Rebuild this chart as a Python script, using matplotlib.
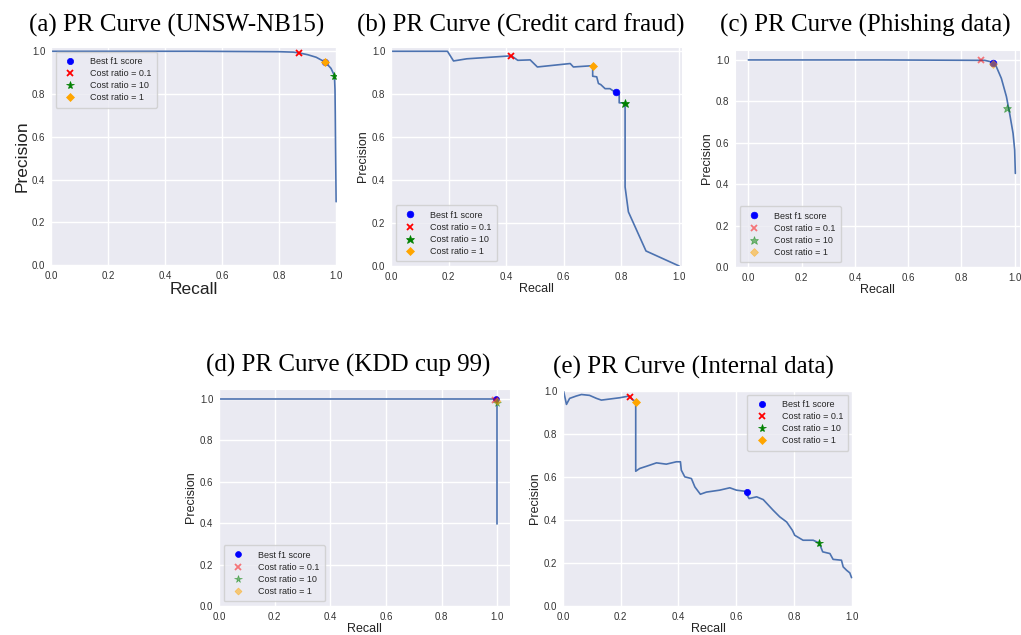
import matplotlib.pyplot as plt
import seaborn as sns

# ---- PR curves (recall, precision) ----
recall_a = [0.0, 0.5, 0.8, 0.85, 0.871, 0.9, 0.93, 0.962, 0.982, 0.994, 0.996, 0.997, 0.998, 0.999, 1.0]
precision_a = [1.0, 1.0, 0.998, 0.996, 0.992, 0.984, 0.972, 0.949, 0.92, 0.886, 0.82, 0.7, 0.55, 0.42, 0.296]

recall_b = [0.0, 0.196, 0.217, 0.263, 0.407, 0.419, 0.44, 0.483, 0.508, 0.622, 0.633, 0.70,
            0.70, 0.714, 0.72, 0.728, 0.743, 0.76, 0.775, 0.781, 0.792, 0.792, 0.8125,
            0.8125, 0.824, 0.885, 1.0]
precision_b = [1.0, 1.0, 0.955, 0.965, 0.978, 0.978, 0.958, 0.96, 0.927, 0.943, 0.927, 0.933,
               0.884, 0.881, 0.85, 0.845, 0.826, 0.826, 0.812, 0.812, 0.80, 0.76, 0.76,
               0.368, 0.252, 0.07, 0.0]

recall_c = [0.0, 0.5, 0.8875, 0.905, 0.919, 0.931, 0.95, 0.969, 0.981, 0.994, 1.0, 1.0025]
precision_c = [1.0, 1.0, 0.998, 0.993, 0.987, 0.968, 0.911, 0.823, 0.742, 0.645, 0.565, 0.452]

recall_d = [0.0, 0.998, 0.998]
precision_d = [1.0, 1.0, 0.395]

recall_e = [0.002, 0.012, 0.023, 0.046, 0.064, 0.092, 0.116, 0.133, 0.162, 0.197, 0.229, 0.243,
            0.252, 0.252, 0.266, 0.289, 0.324, 0.358, 0.393, 0.407, 0.41, 0.422, 0.445, 0.457,
            0.476, 0.497, 0.543, 0.578, 0.601, 0.63, 0.645, 0.671, 0.694, 0.728, 0.751, 0.775,
            0.795, 0.803, 0.832, 0.867, 0.888, 0.9, 0.925, 0.936, 0.965, 0.971, 0.983, 0.994, 1.0]
precision_e = [1.0, 0.938, 0.966, 0.977, 0.984, 0.98, 0.966, 0.958, 0.963, 0.969, 0.977, 0.958,
               0.953, 0.627, 0.64, 0.65, 0.666, 0.66, 0.671, 0.671, 0.632, 0.601, 0.593, 0.554,
               0.52, 0.53, 0.539, 0.55, 0.539, 0.534, 0.5, 0.508, 0.495, 0.446, 0.415, 0.391,
               0.352, 0.329, 0.306, 0.306, 0.293, 0.252, 0.244, 0.217, 0.213, 0.182, 0.166, 0.154, 0.132]

# ---- operating points: best f1, cost 0.1, cost 10, cost 1 ----
point_labels = ['Best f1 score', 'Cost ratio = 0.1', 'Cost ratio = 10', 'Cost ratio = 1']
points_a = [(0.962, 0.949), (0.871, 0.992), (0.994, 0.886), (0.962, 0.949)]
points_b = [(0.781, 0.812), (0.417, 0.978), (0.8125, 0.76), (0.70, 0.933)]
points_c = [(0.919, 0.984), (0.875, 1.0), (0.9725, 0.766), (0.92, 0.98)]
points_d = [(0.995, 0.997), (0.99, 0.995), (1.0, 0.98), (0.997, 0.99)]
points_e = [(0.639, 0.531), (0.231, 0.974), (0.888, 0.293), (0.254, 0.947)]

titles = ['(a) PR Curve (UNSW-NB15)', '(b) PR Curve (Credit card fraud)',
          '(c) PR Curve (Phishing data)', '(d) PR Curve (KDD cup 99)',
          '(e) PR Curve (Internal data)']

sns.set_style('darkgrid')
plt.rcParams['font.family'] = ['Liberation Sans', 'DejaVu Sans']

W, H = 1021, 635
fig = plt.figure(figsize=(W / 100, H / 100), dpi=100)


def add_axes_px(left, right, top, bottom):
    return fig.add_axes([left / W, 1 - bottom / H, (right - left) / W, (bottom - top) / H])


marker_styles = [
    dict(marker='o', color='blue'),
    dict(marker='x', color='red'),
    dict(marker='*', color='green'),
    dict(marker='D', color='orange'),
]

panels = [
    # recall, precision, points, axes box (px), xlim, ylim, label size, legend loc, alpha, marker size
    (recall_a, precision_a, points_a, (51, 337, 47, 265), (0, 1.003), (0, 1.02), 12.5, 'upper left', 1.0, 4.5),
    (recall_b, precision_b, points_b, (391, 682, 47, 266), (0, 1.01), (0, 1.02), 9, 'lower left', 1.0, 4.8),
    (recall_c, precision_c, points_c, (735, 1020, 50, 267), (-0.05, 1.02), (0, 1.048), 9, 'lower left', 0.5, 4.8),
    (recall_d, precision_d, points_d, (219, 510, 389, 606), (0, 1.045), (0, 1.047), 9, 'lower left', 0.5, 4.2),
    (recall_e, precision_e, points_e, (563, 853, 390, 606), (0, 1.005), (0, 1.005), 9, 'upper right', 1.0, 4.5),
]

for i, (rec, prec, pts, box, xl, yl, lab_size, loc, alpha, ms) in enumerate(panels):
    ax = add_axes_px(*box)
    ax.plot(rec, prec, color='#4C72B0', lw=1.2)
    for j, ((x, y), style) in enumerate(zip(pts, marker_styles)):
        a = 1.0 if j == 0 else alpha
        size = ms * 1.3 if style['marker'] == '*' else ms
        if style['marker'] == 'D':
            size = ms * 0.85
        ax.plot([x], [y], linestyle='none', markersize=size, alpha=a,
                markeredgewidth=1.3 if style['marker'] == 'x' else 0.5,
                label=point_labels[j], **style)
    ax.set_xlim(*xl)
    ax.set_ylim(*yl)
    ax.set_xticks([0.0, 0.2, 0.4, 0.6, 0.8, 1.0])
    ax.set_yticks([0.0, 0.2, 0.4, 0.6, 0.8, 1.0])
    ax.tick_params(labelsize=7, length=0, pad=4, colors='#333333')
    ax.set_xlabel('Recall', fontsize=lab_size, color='#222222', labelpad=1)
    ax.set_ylabel('Precision', fontsize=lab_size, color='#222222', labelpad=2)
    ax.grid(True, color='white', lw=1.0)
    ax.legend(loc=loc, fontsize=6.5, frameon=True, handletextpad=1.2, borderpad=0.6,
              labelspacing=0.35)

title_pos = [(177, 25), (521, 25), (865, 25), (348, 365), (693, 367)]
for t, (cx, cy) in zip(titles, title_pos):
    fig.text(cx / W, 1 - cy / H, t, ha='center', va='center', fontsize=18,
             family='Liberation Serif', color='black')

fig.savefig('out.png', dpi=100, facecolor='white')
